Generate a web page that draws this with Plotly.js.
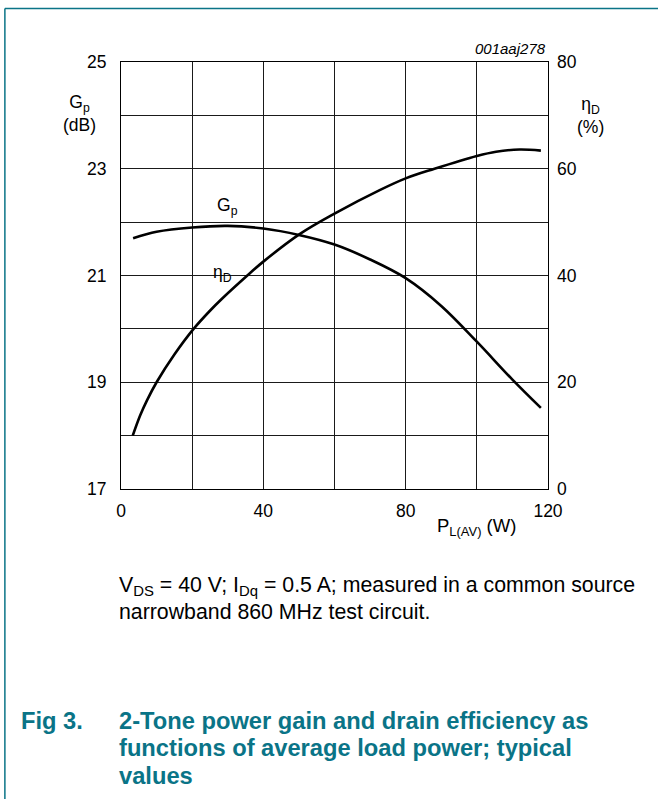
<!DOCTYPE html>
<html>
<head>
<meta charset="utf-8">
<script src="https://cdn.plot.ly/plotly-3.0.1.min.js"></script>
<style>
  html, body { margin: 0; padding: 0; background: #ffffff; }
  #chart { width: 658px; height: 799px; }
</style>
</head>
<body>
<div id="chart"></div>
<script>
// Power gain Gp (dB) vs average load power (W)
const gpPower = [3.4, 10, 20, 30, 40, 50, 60, 70, 80, 90, 100, 110, 118];
const gpGain  = [21.70, 21.82, 21.90, 21.93, 21.88, 21.76, 21.58, 21.30, 20.95, 20.43, 19.76, 19.05, 18.52];

// Drain efficiency ηD (%) vs average load power (W)
const effPower = [3.3, 5.4, 7.3, 10, 15, 20.4, 25, 28.3, 35.5, 40, 50.3, 60, 72.7, 80, 88.1, 100, 105.4, 112, 118];
const effValue = [10, 13.8, 16.6, 20, 25.2, 30, 33.4, 35.6, 40, 42.6, 47.8, 51.6, 56.0, 58.2, 60, 62.4, 63.2, 63.6, 63.4];

const xTicks  = [0, 40, 80, 120];
const yTicks  = [17, 19, 21, 23, 25];
const y2Ticks = [0, 20, 40, 60, 80];

const FONT = 'Liberation Sans, Arial, Helvetica, sans-serif';
const TEAL = '#0a7487';

// plot-area pixel geometry (for placing free text)
const L = 120.7, R = 548, T = 62, B = 489;
const px = x => (x - L) / (R - L);
const py = y => (B - y) / (B - T);

const traces = [
  {
    x: gpPower, y: gpGain, type: 'scatter', mode: 'lines',
    line: { color: '#000', width: 2.6, shape: 'spline', smoothing: 1 },
    xaxis: 'x', yaxis: 'y', hoverinfo: 'skip'
  },
  {
    x: effPower, y: effValue, type: 'scatter', mode: 'lines',
    line: { color: '#000', width: 2.6, shape: 'spline', smoothing: 1 },
    xaxis: 'x', yaxis: 'y2', hoverinfo: 'skip'
  }
];

const ann = [];
const add = (o) => ann.push(Object.assign({ showarrow: false, xanchor: 'center', yanchor: 'middle',
  font: { family: FONT, size: 17.5, color: '#000' } }, o));

// curve labels
add({ xref: 'x', yref: 'y', x: 29.8, y: 22.3, text: 'G<sub>p</sub>' });
add({ xref: 'x', yref: 'y', x: 28.6, y: 21.04, text: 'η<sub>D</sub>' });

// axis titles
add({ xref: 'paper', yref: 'paper', x: px(79), y: py(113), text: 'G<sub>p</sub><br>(dB)' });
add({ xref: 'paper', yref: 'paper', x: px(591), y: py(115), text: 'η<sub>D</sub><br>(%)' });
add({ xref: 'paper', yref: 'paper', x: px(476), y: py(527), text: 'P<sub>L(AV)</sub> (W)', font: { family: FONT, size: 18.5, color: '#000' } });
add({ xref: 'paper', yref: 'paper', x: 1, xanchor: 'right', y: py(49), text: '<i>001aaj278</i>', font: { family: FONT, size: 15, color: '#000' } });

// caption
const cFont = { family: FONT, size: 21.3, color: '#000' };
add({ xref: 'paper', yref: 'paper', x: px(117), xanchor: 'left', y: py(586),
      text: 'V<sub>DS</sub> = 40 V; I<sub>Dq</sub> = 0.5 A; measured in a common source', font: cFont });
add({ xref: 'paper', yref: 'paper', x: px(117), xanchor: 'left', y: py(612),
      text: 'narrowband 860 MHz test circuit.', font: cFont });

// figure title
const tFont = { family: FONT, size: 23.7, color: TEAL };
add({ xref: 'paper', yref: 'paper', x: px(19), xanchor: 'left', y: py(721), text: '<b>Fig 3.</b>', font: tFont });
add({ xref: 'paper', yref: 'paper', x: px(117), xanchor: 'left', y: py(721), text: '<b>2-Tone power gain and drain efficiency as</b>', font: tFont });
add({ xref: 'paper', yref: 'paper', x: px(117), xanchor: 'left', y: py(748), text: '<b>functions of average load power; typical</b>', font: tFont });
add({ xref: 'paper', yref: 'paper', x: px(117), xanchor: 'left', y: py(776), text: '<b>values</b>', font: tFont });

const shapes = [
  // figure frame (top and left)
  { type: 'line', xref: 'paper', yref: 'paper', x0: px(4.5), x1: px(660), y0: py(8.5), y1: py(8.5), line: { color: TEAL, width: 1.5 } },
  { type: 'line', xref: 'paper', yref: 'paper', x0: px(4.5), x1: px(4.5), y0: py(8.5), y1: py(801), line: { color: TEAL, width: 1.5 } },
  // gap in the 21 dB grid line behind the ηD label
  { type: 'rect', layer: 'between', xref: 'paper', yref: 'paper', x0: px(207), x1: px(243), y0: py(280), y1: py(272),
    fillcolor: '#ffffff', line: { width: 0 } }
];

const gridCol = '#1a1a1a';
const tickFont = { family: FONT, size: 17.5, color: '#000' };
const layout = {
  width: 658, height: 799,
  margin: { l: L, r: 658 - R, t: T, b: 799 - B, pad: 0 },
  paper_bgcolor: '#ffffff', plot_bgcolor: '#ffffff',
  showlegend: false,
  font: { family: FONT, size: 17, color: '#000' },
  xaxis: {
    range: [0, 120], tickvals: xTicks, ticktext: xTicks.map(String),
    showgrid: true, gridcolor: gridCol, gridwidth: 1,
    minor: { dtick: 20, tick0: 0, showgrid: true, gridcolor: gridCol, gridwidth: 1 },
    showline: true, linecolor: '#000', linewidth: 1, mirror: true,
    ticks: '', ticklabelstandoff: 6, zeroline: false, tickfont: tickFont
  },
  yaxis: {
    range: [17, 25], tickvals: yTicks, ticktext: yTicks.map(String),
    showgrid: true, gridcolor: gridCol, gridwidth: 1,
    minor: { dtick: 1, tick0: 17, showgrid: true, gridcolor: gridCol, gridwidth: 1 },
    showline: true, linecolor: '#000', linewidth: 1, mirror: true,
    ticks: '', ticklabelstandoff: 10, zeroline: false, tickfont: tickFont
  },
  yaxis2: {
    range: [0, 80], tickvals: y2Ticks, ticktext: y2Ticks.map(String),
    overlaying: 'y', side: 'right', showgrid: false, zeroline: false,
    ticks: '', ticklabelstandoff: 8, showline: false, tickfont: tickFont
  },
  annotations: ann,
  shapes: shapes
};

Plotly.newPlot('chart', traces, layout, { staticPlot: true, displayModeBar: false });
</script>
</body>
</html>
